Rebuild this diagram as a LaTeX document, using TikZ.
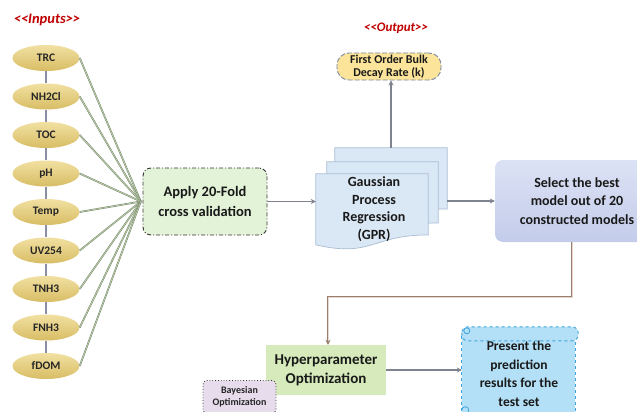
\documentclass[tikz,border=0pt]{standalone}
\usepackage{fontspec}
\setmainfont{Carlito}
\usetikzlibrary{shapes.geometric,arrows.meta,calc}
\definecolor{ellT}{HTML}{F1E0A2}
\definecolor{ellB}{HTML}{D8BD64}
\definecolor{vgray}{HTML}{8A8FA6}
\definecolor{connG}{HTML}{7C8472}
\definecolor{connL}{HTML}{B9D4A6}
\definecolor{agray}{HTML}{7F8390}
\definecolor{applyG}{HTML}{E3F3D8}
\definecolor{gprF}{HTML}{DAE8F5}
\definecolor{gprB}{HTML}{A9BDD2}
\definecolor{selT}{HTML}{DCE2F5}
\definecolor{selB}{HTML}{C3CCEA}
\definecolor{brownL}{HTML}{9A7D6D}
\definecolor{brownI}{HTML}{E6D8D0}
\definecolor{hypG}{HTML}{D6EABB}
\definecolor{bayP}{HTML}{E7DCEC}
\definecolor{presB}{HTML}{B3E0F6}
\definecolor{presD}{HTML}{3FA3DA}
\definecolor{outY}{HTML}{FCE59A}
\definecolor{outB}{HTML}{7A88A2}
\definecolor{redlbl}{HTML}{C00000}
\newcommand\docpage[1]{%
  \path[fill=gprF, draw=gprB, line width=0.7pt] (#1.north west) -- (#1.north east)
    -- ($(#1.north east)!0.80!(#1.south east)$)
    .. controls ($(#1.north)!0.80!(#1.south)$) and ($(#1.north)!1.1!(#1.south)$) ..
    ($(#1.north west)!0.93!(#1.south west)$) -- cycle;}
\begin{document}
\begin{tikzpicture}[x=1pt,y=-1pt,
  inp/.style={ellipse, minimum width=67pt, minimum height=26pt, inner sep=0pt,
    top color=ellT, bottom color=ellB, font=\fontsize{11.5}{12}\selectfont\bfseries, text=black!85},
  vline/.style={draw=vgray, line width=1.8pt},
  conn/.style={draw=connG, double=connL, double distance=0.7pt, line width=0.5pt},
  arr/.style={draw=agray, line width=1.5pt, -{Stealth[length=5pt,width=5pt]}},
  big/.style={font=\fontsize{14}{18.5}\selectfont\bfseries, align=center, text=black!90},
  lbl/.style={font=\fontsize{13}{15}\selectfont\bfseries\itshape, text=redlbl},
  box/.style={inner sep=0pt}]
\clip (0,0) rectangle (637,412);
\fill[white] (0,0) rectangle (637,412);

% labels
\node[lbl, font=\fontsize{14.5}{15}\selectfont\bfseries\itshape] (inlbl) at (47,20) {<\kern0pt<Inputs>\kern0pt>};
\node[lbl] (outlbl) at (396,28) {<\kern0pt<Output>\kern0pt>};

% input ellipses
\foreach \n/\t [count=\i from 0] in {e1/TRC,e2/NH2Cl,e3/TOC,e4/pH,e5/Temp,e6/UV254,e7/TNH3,e8/FNH3,e9/fDOM}
  \node[inp] (\n) at (46,58+38.5*\i) {\t};

\foreach \a/\b in {e1/e2,e2/e3,e3/e4,e4/e5,e5/e6,e6/e7,e7/e8,e8/e9}
  \draw[vline] (\a.south) -- (\b.north);

% apply box (coordinate for connectors)
\node[box, minimum width=124pt, minimum height=67pt] (applyc) at (205,201.5) {};
\foreach \n in {e1,e2,e3,e4,e5,e6,e7,e8,e9}
  \draw[conn] (\n.east) -- ([xshift=-2pt]applyc.west);
\node[big, fill=applyG, draw=black!80, line width=0.9pt,
  dash pattern=on 4pt off 2pt on 1pt off 2pt, rounded corners=8pt,
  minimum width=124pt, minimum height=67pt, inner sep=0pt, font=\fontsize{14.5}{20}\selectfont\bfseries]
  (apply) at (205,201.5) {Apply 20-Fold\\cross validation};

% GPR stacked documents
\node[box, minimum width=112pt, minimum height=76pt] (gprback) at (391,186) {};
\node[box, minimum width=111pt, minimum height=76pt] (gprmid) at (382.5,200) {};
\node[box, minimum width=112pt, minimum height=76pt] (gpr) at (372,212) {};
\docpage{gprback}
\docpage{gprmid}
\docpage{gpr}
\node[big, font=\fontsize{14}{17.5}\selectfont\bfseries] (gprtext) at (374,209) {Gaussian\\Process\\Regression\\(GPR)};

% output
\node[fill=outY, draw=outB, dash pattern=on 5pt off 2pt, line width=0.9pt, rounded corners=12pt,
  minimum width=104pt, minimum height=27pt, inner sep=0pt, align=center,
  font=\fontsize{12}{13}\selectfont\bfseries, text=black!90] (out) at (389,66.5)
  {First Order Bulk\\Decay Rate (k)};
\draw[arr] (gprback.north) -- (gprback.north |- out.south);

% select
\node[big, top color=selT, bottom color=selB, rounded corners=8pt,
  minimum width=164pt, minimum height=82pt, inner sep=0pt] (select) at (577,201)
  {Select the best\\model out of 20\\constructed models};
\draw[arr] (apply.east) -- (apply.east -| gpr.west);
\draw[arr] (select.west -| gprback.east) -- (select.west);

% hyperparameter
\node[big, fill=hypG, minimum width=120pt, minimum height=50pt, inner sep=0pt,
  font=\fontsize{15}{19}\selectfont\bfseries] (hyp) at (326,370)
  {Hyperparameter\\Optimization};
\draw[draw=brownL, double=brownI, double distance=0.8pt, line width=0.6pt,
  -{Stealth[length=5pt,width=5pt]}]
  ([xshift=-5pt]select.south) -- ++(0,55) -| ([xshift=2pt]hyp.north);

% bayesian
\node[fill=bayP, draw=black!80, dotted, line width=0.8pt, rounded corners=4pt,
  minimum width=73pt, minimum height=33pt, inner sep=0pt, align=center,
  font=\fontsize{10}{12}\selectfont\bfseries, text=black!85] (bayes) at (239.5,397)
  {Bayesian\\Optimization};

% present (scroll)
\node[box, minimum width=113pt, minimum height=82pt] (presentbox) at (518.5,377) {};
\fill[presB] (presentbox.north west) rectangle (presentbox.south east);
\draw[presD, dashed, line width=0.9pt] (presentbox.north west) -- (presentbox.south west);
\draw[presD, dashed, line width=0.9pt] (presentbox.north east) -- (presentbox.south east);
\draw[presD, dashed, line width=0.9pt, fill=presB, rounded corners=6pt]
  ($(presentbox.north west)+(0,-9)$) rectangle ($(presentbox.north east)+(3,5)$);
\draw[presD, line width=0.8pt] ($(presentbox.north west)+(5,-5)$) circle (3pt);
\draw[presD, line width=0.8pt] ($(presentbox.south west)+(0,-8)$) arc (180:-90:3.5pt);
\node[big, font=\fontsize{13.5}{18.5}\selectfont\bfseries] (present) at (519,374) {Present the\\prediction\\results for the\\test set};
\draw[arr] (hyp.east) -- (hyp.east -| presentbox.west);
\end{tikzpicture}
\end{document}
